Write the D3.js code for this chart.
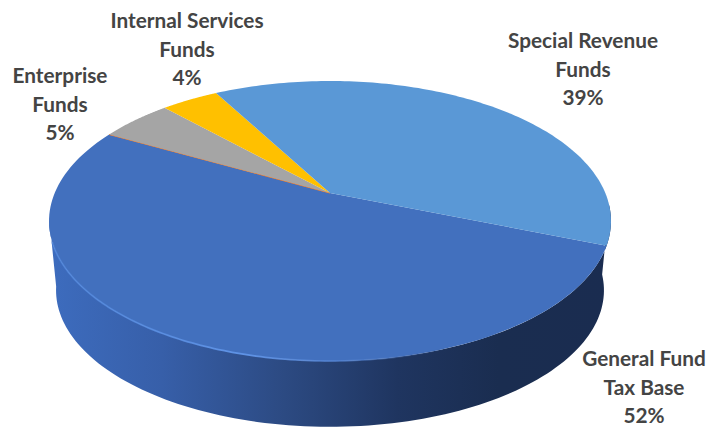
<!DOCTYPE html>
<html>
<head>
<meta charset="utf-8">
<script src="https://cdn.jsdelivr.net/npm/d3@7"></script>
<style>
  html, body { margin: 0; padding: 0; background: #fff; }
  svg { display: block; }
  text { font-family: Lato, "Open Sans", sans-serif; font-weight: 700; fill: #444444; }
</style>
</head>
<body>
<svg id="chart" width="709" height="428"></svg>
<script>
// Budget shares by fund type, drawn clockwise from the right-hand seam.
const categories = ["General Fund Tax Base", "Other", "Enterprise Funds", "Internal Services Funds", "Special Revenue Funds"];
const shares = [52, 0, 5, 4, 39];
const sliceColors = ["#4270BE", "#ED7D31", "#A5A5A5", "#FFC000", "#5A98D6"];
const labelLines = [["General Fund", "Tax Base", "52%"], [], ["Enterprise", "Funds", "5%"], ["Internal Services", "Funds", "4%"], ["Special Revenue", "Funds", "39%"]];

const width = 709, height = 428;
const svg = d3.select("#chart");

// Tilted disc: a unit circle seen in perspective, the near edge drawn larger.
const tilt = 0.2;
const startDeg = 21.3;
const topFace = { x: d3.scaleLinear().domain([-1, 1]).range([330 - 275.3, 330 + 275.3]),
                  y: d3.scaleLinear().domain([-1, 1]).range([193 - 134.4, 193 + 134.4]) };
const baseScale = 0.975;
const baseFace = { x: d3.scaleLinear().domain([-1, 1]).range([330 - 275.3 * baseScale, 330 + 275.3 * baseScale]),
                   y: d3.scaleLinear().domain([-1, 1]).range([263 - 134.4 * baseScale, 263 + 134.4 * baseScale]) };

// Angles are measured clockwise from east on screen.
function project(face, deg) {
  const r = deg * Math.PI / 180;
  const u = Math.cos(r), v = Math.sin(r), w = 1 - tilt * v;
  return [face.x(u / w), face.y(v / w)];
}
const samples = (a, b) => d3.range(0, 121).map(i => a + (b - a) * i / 120);
const line = d3.line();

const pie = d3.pie().sort(null).value(d => d)
  .startAngle(startDeg * Math.PI / 180)
  .endAngle((startDeg + 360) * Math.PI / 180);
const arcs = pie(shares).map((a, i) => ({
  i, from: a.startAngle * 180 / Math.PI, to: a.endAngle * 180 / Math.PI
}));

const defs = svg.append("defs");
const wallGrad = defs.append("linearGradient").attr("id", "wall")
  .attr("gradientUnits", "userSpaceOnUse").attr("x1", 49).attr("x2", 611).attr("y1", 0).attr("y2", 0);
[[0, "#3D6CBE"], [0.2, "#375FA9"], [0.42, "#2C4A82"], [0.62, "#1F3560"], [0.8, "#1A2D50"], [1, "#1A2C50"]]
  .forEach(([o, c]) => wallGrad.append("stop").attr("offset", o).attr("stop-color", c));
const edgeGrad = defs.append("linearGradient").attr("id", "edge")
  .attr("gradientUnits", "userSpaceOnUse").attr("x1", 49).attr("x2", 611).attr("y1", 0).attr("y2", 0);
[[0, "#4F86DC", 0.7], [0.35, "#5F93E6", 1], [0.6, "#4F7CC8", 0.5], [0.72, "#2E4C86", 0]]
  .forEach(([o, c, a]) => edgeGrad.append("stop").attr("offset", o).attr("stop-color", c).attr("stop-opacity", a));

// Front wall between the top face and the base, tangent to both outlines.
const wallAngles = samples(5, 170);
const wallOutline = wallAngles.map(d => project(topFace, d))
  .concat(wallAngles.slice().reverse().map(d => project(baseFace, d)));
svg.append("path").attr("d", line(wallOutline) + "Z").attr("fill", "url(#wall)");

// Top face slices.
svg.append("g").selectAll("path").data(arcs).join("path")
  .attr("d", d => {
    const rim = samples(d.from, d.to).map(a => project(topFace, a));
    return line([[topFace.x(0), topFace.y(0)], ...rim]) + "Z";
  })
  .attr("fill", d => sliceColors[d.i])
  .attr("stroke", d => shares[d.i] === 0 ? sliceColors[d.i] : "none")
  .attr("stroke-width", 0.8);

// Soft highlight along the bevelled front rim.
svg.append("path")
  .attr("d", line(samples(60, 160).map(a => project(topFace, a))))
  .attr("fill", "none").attr("stroke", "url(#edge)").attr("stroke-width", 1.8);

// Category labels, one centred block per slice.
const labelAnchors = [[644, 366], null, [60, 83], [187, 28], [583, 48]];
const lineStep = 28.7;
const labels = svg.append("g").attr("font-size", 20.8).attr("text-anchor", "middle");
labelLines.forEach((lines, i) => {
  if (!lines.length) return;
  const [ax, ay] = labelAnchors[i];
  labels.selectAll(null).data(lines).enter().append("text")
    .attr("x", ax).attr("y", (d, j) => ay + j * lineStep).text(d => d);
});
</script>
</body>
</html>
